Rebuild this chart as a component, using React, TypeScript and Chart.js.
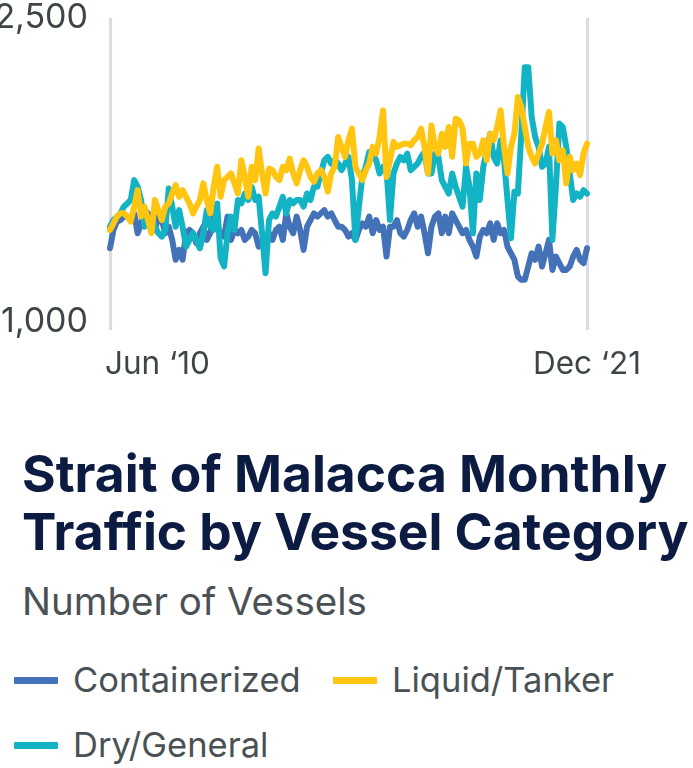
import React, { useEffect, useRef } from "react";
import { Chart, registerables } from "chart.js";

Chart.register(...registerables);

const MONTH_NAMES = ["Jan", "Feb", "Mar", "Apr", "May", "Jun", "Jul", "Aug", "Sep", "Oct", "Nov", "Dec"];
const categories: string[] = [];
for (let i = 0; i < 139; i++) {
  const m = (5 + i) % 12;
  const y = 2010 + Math.floor((5 + i) / 12);
  categories.push(`${MONTH_NAMES[m]} ${y}`);
}

const xTickLabels = ["Jun \u201810", "Dec \u201821"];
const yTicks = [1000, 2500];

const containerized = [
  1364, 1454, 1495, 1503, 1520, 1520, 1503, 1536, 1438, 1487,
  1552, 1536, 1503, 1454, 1520, 1503, 1438, 1470, 1405, 1307,
  1356, 1307, 1438, 1454, 1438, 1389, 1438, 1470, 1405, 1438,
  1520, 1470, 1438, 1421, 1520, 1405, 1454, 1438, 1454, 1405,
  1421, 1454, 1438, 1372, 1389, 1356, 1438, 1405, 1454, 1470,
  1405, 1536, 1470, 1438, 1520, 1454, 1356, 1470, 1503, 1536,
  1520, 1536, 1552, 1520, 1536, 1503, 1470, 1470, 1454, 1421,
  1438, 1405, 1454, 1487, 1470, 1520, 1438, 1503, 1454, 1470,
  1323, 1470, 1470, 1503, 1438, 1421, 1454, 1503, 1536, 1470,
  1520, 1438, 1339, 1470, 1520, 1536, 1438, 1520, 1438, 1536,
  1503, 1470, 1438, 1454, 1405, 1372, 1323, 1421, 1454, 1438,
  1487, 1405, 1487, 1438, 1454, 1372, 1339, 1307, 1225, 1208,
  1208, 1274, 1339, 1307, 1372, 1274, 1339, 1405, 1257, 1323,
  1290, 1257, 1257, 1274, 1323, 1356, 1307, 1290, 1364,
];

const liquidTanker = [
  1454, 1487, 1520, 1536, 1536, 1520, 1495, 1569, 1651, 1520,
  1569, 1503, 1438, 1602, 1552, 1503, 1569, 1585, 1634, 1675,
  1618, 1651, 1618, 1585, 1536, 1569, 1602, 1684, 1602, 1536,
  1667, 1766, 1618, 1700, 1716, 1733, 1684, 1634, 1798, 1716,
  1618, 1766, 1700, 1856, 1733, 1634, 1757, 1749, 1716, 1700,
  1766, 1749, 1806, 1733, 1684, 1749, 1798, 1766, 1716, 1692,
  1733, 1749, 1716, 1643, 1733, 1766, 1913, 1864, 1815, 1897,
  1954, 1766, 1733, 1700, 1749, 1782, 1864, 1831, 1913, 2044,
  1716, 1798, 1888, 1864, 1872, 1880, 1880, 1872, 1897, 1913,
  1954, 1864, 1733, 1970, 1864, 1831, 1929, 1864, 1962, 1815,
  2003, 1995, 1954, 1782, 1880, 1880, 1815, 1831, 1897, 1798,
  1929, 1897, 1962, 2044, 1864, 1733, 1864, 1929, 2110, 2061,
  1962, 1864, 1815, 1782, 1831, 1880, 1962, 2036, 1831, 1897,
  1798, 1847, 1684, 1815, 1749, 1782, 1725, 1831, 1880,
];

const dryGeneral = [
  1470, 1503, 1520, 1536, 1569, 1585, 1602, 1700, 1667, 1602,
  1470, 1503, 1520, 1470, 1438, 1421, 1454, 1659, 1569, 1470,
  1552, 1470, 1372, 1405, 1438, 1405, 1364, 1438, 1552, 1470,
  1454, 1585, 1315, 1274, 1438, 1520, 1454, 1602, 1585, 1634,
  1602, 1667, 1602, 1618, 1438, 1241, 1503, 1536, 1520, 1569,
  1618, 1536, 1602, 1585, 1602, 1602, 1569, 1634, 1602, 1667,
  1667, 1733, 1798, 1815, 1782, 1798, 1782, 1749, 1782, 1815,
  1700, 1405, 1569, 1716, 1766, 1839, 1831, 1798, 1733, 1766,
  1749, 1503, 1733, 1782, 1815, 1798, 1831, 1749, 1766, 1782,
  1815, 1839, 1733, 1733, 1831, 1815, 1700, 1667, 1634, 1733,
  1667, 1618, 1569, 1766, 1667, 1438, 1733, 1602, 1766, 1847,
  1929, 1815, 1782, 1897, 1798, 1602, 1413, 1643, 1634, 1929,
  2257, 2257, 2011, 1913, 1864, 1766, 1782, 1864, 1405, 1667,
  1979, 1962, 1864, 1733, 1602, 1634, 1618, 1651, 1634,
];

const COLORS = {
  containerized: "#4472b8",
  liquid: "#ffc510",
  dry: "#13b3c6",
  grid: "#dcdce9",
  axisText: "#3e4548",
  title: "#0c1b42",
  sub: "#4a5154",
};

const FONT = "Inter, Lato, 'Noto Sans', sans-serif";

const xLabelPlugin = {
  id: "xEndLabels",
  afterDraw(chart: any) {
    const { ctx } = chart;
    const x = chart.scales.x;
    ctx.save();
    ctx.font = `400 31.5px ${FONT}`;
    ctx.fillStyle = COLORS.axisText;
    ctx.textBaseline = "alphabetic";
    const first = x.getPixelForValue(0);
    const last = x.getPixelForValue(categories.length - 1);
    ctx.textAlign = "left";
    ctx.fillText(xTickLabels[0], first - 5, 374);
    ctx.textAlign = "center";
    ctx.fillText(xTickLabels[1], last, 374);
    ctx.restore();
  },
};

function LineChart() {
  const ref = useRef<HTMLCanvasElement | null>(null);
  useEffect(() => {
    if (!ref.current) return;
    const chart = new Chart(ref.current, {
      type: "line",
      data: {
        labels: categories,
        datasets: [
          {
            label: "Containerized",
            data: containerized,
            borderColor: COLORS.containerized,
            order: 3,
          },
          {
            label: "Liquid/Tanker",
            data: liquidTanker,
            borderColor: COLORS.liquid,
            order: 1,
          },
          {
            label: "Dry/General",
            data: dryGeneral,
            borderColor: COLORS.dry,
            order: 2,
          },
        ].map((d) => ({
          ...d,
          borderWidth: 6,
          pointRadius: 0,
          tension: 0,
          fill: false,
          borderJoinStyle: "round" as const,
          borderCapStyle: "round" as const,
        })),
      },
      options: {
        animation: false,
        responsive: false,
        maintainAspectRatio: false,
        layout: { padding: { top: 18, right: 106, left: 0, bottom: 0 } },
        plugins: { legend: { display: false }, tooltip: { enabled: false }, title: { display: false } },
        scales: {
          x: {
            type: "category",
            offset: false,
            border: { display: false },
            ticks: { display: false, autoSkip: false },
            grid: {
              drawOnChartArea: true,
              drawTicks: true,
              tickLength: 8,
              lineWidth: 3,
              color: (c: any) =>
                c.index === 0 || c.index === categories.length - 1 ? COLORS.grid : "rgba(0,0,0,0)",
            },
            afterFit: (s: any) => {
              s.height = 73;
              s.paddingLeft = 0;
              s.paddingRight = 0;
            },
          },
          y: {
            min: 1000,
            max: 2500,
            border: { display: false },
            grid: { display: false, drawTicks: false },
            afterBuildTicks: (s: any) => {
              s.ticks = yTicks.map((v) => ({ value: v }));
            },
            afterFit: (s: any) => {
              s.width = 110;
              s.paddingTop = 0;
              s.paddingBottom = 0;
            },
            ticks: {
              padding: 22,
              color: COLORS.axisText,
              font: { family: FONT, size: 34, weight: "normal" },
              callback: (v: any) => Number(v).toLocaleString("en-US"),
            },
          },
        },
      },
      plugins: [xLabelPlugin],
    });
    return () => chart.destroy();
  }, []);
  return <canvas ref={ref} width={693} height={395} style={{ display: "block", width: 693, height: 395 }} />;
}

function LegendItem({ color, label, left, top }: { color: string; label: string; left: number; top: number }) {
  return (
    <div style={{ position: "absolute", left, top, display: "flex", alignItems: "center", height: 40 }}>
      <div style={{ width: 44, height: 7, background: color, borderRadius: 1 }} />
      <span style={{ marginLeft: 15, fontSize: 34.5, color: COLORS.sub, fontFamily: FONT, lineHeight: "40px", whiteSpace: "nowrap" }}>{label}</span>
    </div>
  );
}

export default function App() {
  useEffect(() => {
    document.body.style.margin = "0";
  }, []);
  return (
    <div style={{ position: "relative", width: 693, height: 768, background: "#fff", fontFamily: FONT, overflow: "hidden" }}>
      <LineChart />
      <div
        style={{
          position: "absolute",
          left: 22,
          top: 444,
          fontSize: 51.5,
          fontWeight: 700,
          lineHeight: "58px",
          color: COLORS.title,
          fontFamily: FONT,
          whiteSpace: "nowrap",
        }}
      >
        <div>Strait of Malacca Monthly</div>
        <div>Traffic by Vessel Category</div>
      </div>
      <div
        style={{
          position: "absolute",
          left: 22,
          top: 581,
          fontSize: 38.5,
          color: COLORS.sub,
          fontFamily: FONT,
          lineHeight: "40px",
          whiteSpace: "nowrap",
        }}
      >
        Number of Vessels
      </div>
      <LegendItem color={COLORS.containerized} label="Containerized" left={14} top={660} />
      <LegendItem color={COLORS.liquid} label="Liquid/Tanker" left={333} top={660} />
      <LegendItem color={COLORS.dry} label="Dry/General" left={14} top={725} />
    </div>
  );
}
